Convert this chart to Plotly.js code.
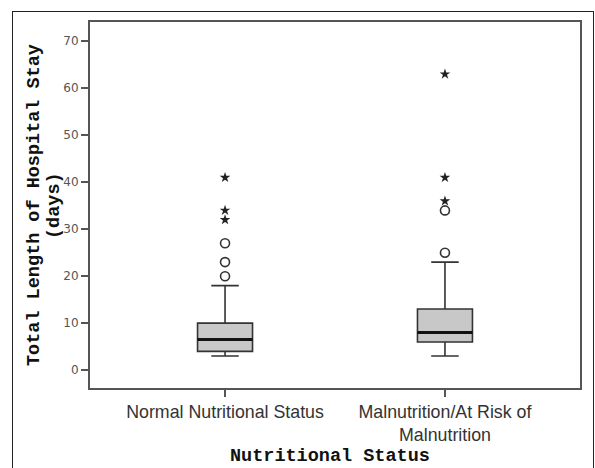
<!DOCTYPE html>
<html><head><meta charset="utf-8">
<script src="https://cdn.plot.ly/plotly-3.0.1.min.js"></script>
<style>html,body{margin:0;padding:0;background:#fff;overflow:hidden;}#chart{width:595px;height:468px;}
#frame{position:absolute;left:12px;top:11px;width:580px;height:470px;border:1.5px solid #222;pointer-events:none;}</style>
</head><body><div id="chart"></div><div id="frame"></div>
<script>
var categories = ["Normal Nutritional Status", "Malnutrition/At Risk of<br>Malnutrition"];
var q1 = [4, 6];
var medians = [6.5, 8];
var q3 = [10, 13];
var lowerWhisker = [3, 3];
var upperWhisker = [18, 23];
var circleOutliersNormal = [20, 23, 27];
var starOutliersNormal = [32, 34, 41];
var circleOutliersMal = [25, 34];
var starOutliersMal = [36, 41, 63];
var yTicks = [0, 10, 20, 30, 40, 50, 60, 70];
var yTitleLines = ["Total Length of Hospital Stay", "(days)"];
var xTitle = "Nutritional Status";

function rep(cat, arr){ return arr.map(function(){ return cat; }); }

var traces = [
  {type:'box', x:categories, q1:q1, median:medians, q3:q3, lowerfence:lowerWhisker, upperfence:upperWhisker,
   boxpoints:false, width:0.25, whiskerwidth:0.5, fillcolor:'#c8c8c8', line:{color:'#333', width:1.6}, hoverinfo:'skip'},
  {type:'box', x:categories, q1:medians, median:medians, q3:medians, lowerfence:medians, upperfence:medians,
   boxpoints:false, width:0.25, whiskerwidth:0, fillcolor:'rgba(0,0,0,0)', line:{color:'#111', width:3}, hoverinfo:'skip'},
  {type:'scatter', mode:'markers', x:rep(categories[0], circleOutliersNormal).concat(rep(categories[1], circleOutliersMal)),
   y:circleOutliersNormal.concat(circleOutliersMal), marker:{symbol:'circle-open', size:9, color:'#333', line:{width:1.6, color:'#333'}}},
  {type:'scatter', mode:'markers', x:rep(categories[0], starOutliersNormal).concat(rep(categories[1], starOutliersMal)),
   y:starOutliersNormal.concat(starOutliersMal), marker:{symbol:'star', size:8, color:'#222', line:{width:0}}}
];

var titleFont = {family:'Liberation Mono, Courier New', size:18.5, color:'#111'};
var layout = {
  width:595, height:468, showlegend:false,
  paper_bgcolor:'#fff', plot_bgcolor:'#fff',
  margin:{l:90, r:15, t:22, b:80},
  xaxis:{type:'category', range:[-0.614, 1.614], showline:true, mirror:true, linecolor:'#555', linewidth:2,
    ticks:'outside', ticklen:7, tickwidth:2, tickcolor:'#555', showgrid:false, zeroline:false,
    tickfont:{family:'Liberation Sans, Arial', size:17.8, color:'#333'}},
  yaxis:{range:[-3.8, 74.1], tickvals:yTicks, showline:true, mirror:true, linecolor:'#555', linewidth:2,
    ticks:'outside', ticklen:7, tickwidth:2, tickcolor:'#555', showgrid:false, zeroline:false,
    tickfont:{family:'DejaVu Sans, Verdana', size:12, color:'#555'}},
  annotations:[
    {xref:'paper', yref:'paper', x:-0.1143, y:0.5, text:'<b>'+yTitleLines[0]+'</b>', textangle:-90, showarrow:false, font:titleFont, xanchor:'center', yanchor:'middle'},
    {xref:'paper', yref:'paper', x:-0.0735, y:0.5, text:'<b>'+yTitleLines[1]+'</b>', textangle:-90, showarrow:false, font:titleFont, xanchor:'center', yanchor:'middle'},
    {xref:'paper', yref:'paper', x:0.49, y:-0.1885, text:'<b>'+xTitle+'</b>', showarrow:false, font:{family:'Liberation Mono, Courier New', size:18.5, color:'#111'}, xanchor:'center', yanchor:'middle'}
  ]
};
Plotly.newPlot('chart', traces, layout, {displayModeBar:false, staticPlot:true});
</script></body></html>
